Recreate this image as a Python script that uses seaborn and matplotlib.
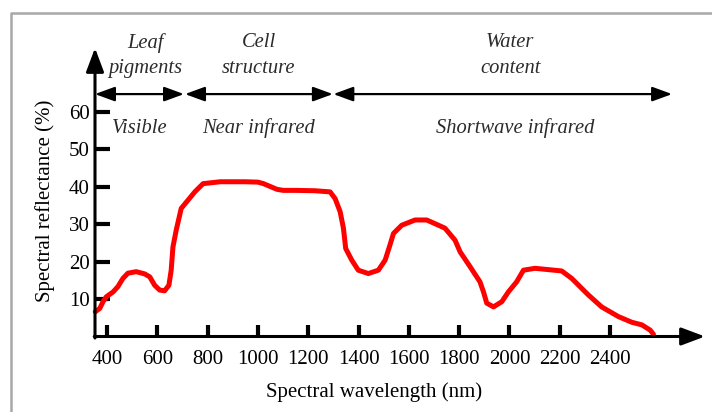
import numpy as np
import pandas as pd
import seaborn as sns
import matplotlib.pyplot as plt
from matplotlib.lines import Line2D

# reflectance curve
wavelength = [353, 371, 384, 397, 424, 443, 463, 483, 516, 550, 570, 589, 609, 629,
              646, 655, 662, 675, 695, 722, 749, 782, 850, 950, 1000, 1022, 1050,
              1075, 1100, 1150, 1227, 1287, 1307, 1327, 1340, 1349, 1373, 1399, 1439,
              1479, 1506, 1525, 1539, 1572, 1625, 1671, 1718, 1744, 1784, 1804, 1844,
              1883, 1897, 1910, 1937, 1970, 1996, 2029, 2056, 2102, 2208, 2248, 2314,
              2367, 2434, 2487, 2527, 2560, 2573]
reflectance = [6.6, 7.5, 9.3, 10.6, 11.9, 13.3, 15.5, 16.9, 17.3, 16.7, 15.9, 13.7, 12.4, 12.2,
               13.7, 17.7, 23.9, 28.4, 34.2, 36.4, 38.6, 40.8, 41.3, 41.3, 41.2, 40.8, 40.0,
               39.3, 39.0, 39.0, 38.9, 38.6, 36.8, 33.3, 28.9, 23.5, 20.4, 17.7, 16.8,
               17.7, 20.4, 24.4, 27.5, 29.7, 31.1, 31.1, 29.7, 28.9, 25.7, 22.6, 18.6,
               14.6, 11.9, 8.9, 7.9, 9.3, 11.9, 14.6, 17.7, 18.2, 17.5, 15.5, 11.1,
               7.9, 5.3, 3.8, 3.1, 1.7, 0.6]

x_ticks = [400, 600, 800, 1000, 1200, 1400, 1600, 1800, 2000, 2200, 2400]
y_ticks = [10, 20, 30, 40, 50, 60]

# regions: arrow span, label above, label below
region_start = [352, 710, 1300]
region_end = [706, 1298, 2647]
region_top = ["Leaf\npigments", "Cell\nstructure", "Water\ncontent"]
region_bottom = ["Visible", "Near infrared", "Shortwave infrared"]
top_x = [551, 1004, 2003]
bottom_x = [531, 1004, 2023]

df = pd.DataFrame({"wavelength": wavelength, "reflectance": reflectance})

sns.set_theme(style="white")
plt.rcParams['font.family'] = ['Liberation Serif', 'DejaVu Serif']

fig = plt.figure(figsize=(7.12, 4.12), dpi=100)
ax = fig.add_axes([95 / 712, 75.5 / 412, 610 / 712, 288.5 / 412])

sns.lineplot(data=df, x="wavelength", y="reflectance", sort=False, estimator=None,
             color="#ff0000", lw=3.6, ax=ax, solid_capstyle="round",
             solid_joinstyle="round", clip_on=False)

xmin, xmax = 352, 2778
ymin, ymax = 0, 77
ax.set_xlim(xmin, xmax)
ax.set_ylim(ymin, ymax)
for s in ax.spines.values():
    s.set_visible(False)

# axis lines with arrow heads
axis_arrow = dict(arrowstyle="-|>,head_length=0.72,head_width=0.27", color="black",
                  lw=2.2, shrinkA=0, shrinkB=0, mutation_scale=20)
ax.annotate("", xy=(xmax, 0), xytext=(xmin - 3, 0), arrowprops=axis_arrow, annotation_clip=False)
ax.annotate("", xy=(xmin, ymax), xytext=(xmin, -0.4), arrowprops=axis_arrow, annotation_clip=False)

ax.set_xticks(x_ticks)
ax.set_yticks(y_ticks)
ax.tick_params(axis="both", direction="in", width=3, color="black",
               labelsize=15, labelcolor="black", bottom=True, left=True)
ax.tick_params(axis="x", length=9, pad=10)
ax.tick_params(axis="y", length=10.5, pad=4)
ax.grid(False)

ax.set_xlabel("Spectral wavelength (nm)", fontsize=15, color="black")
ax.set_ylabel("Spectral reflectance (%)", fontsize=15, color="black")
ax.xaxis.set_label_coords((374 - 95) / 610, (336.5 - 392) / 288.5)
ax.xaxis.label.set_va("center")
ax.yaxis.set_label_coords((45 - 95) / 610, (336.5 - 201) / 288.5)
ax.yaxis.label.set_va("center")

# region arrows and labels
region_arrow = dict(arrowstyle="<|-|>,head_length=0.6,head_width=0.22", color="black",
                    lw=1.6, shrinkA=0, shrinkB=0, mutation_scale=20)
for a, b in zip(region_start, region_end):
    ax.annotate("", xy=(b, 64.7), xytext=(a, 64.7), arrowprops=region_arrow, annotation_clip=False)
for x, top in zip(top_x, region_top):
    ax.text(x, 75.0, top, ha="center", va="center", style="italic", fontsize=14.8,
            color="#2b2b2b", linespacing=1.45)
for x, bottom in zip(bottom_x, region_bottom):
    ax.text(x, 55.6, bottom, ha="center", va="center", style="italic", fontsize=14.8,
            color="#2b2b2b")

# grey frame around the picture
fig.add_artist(Line2D([11 / 712, 11 / 712, 1], [0, 1 - 13 / 412, 1 - 13 / 412],
                      color="#a8a8a8", lw=1.8, transform=fig.transFigure))

fig.savefig("out.png", dpi=100)
